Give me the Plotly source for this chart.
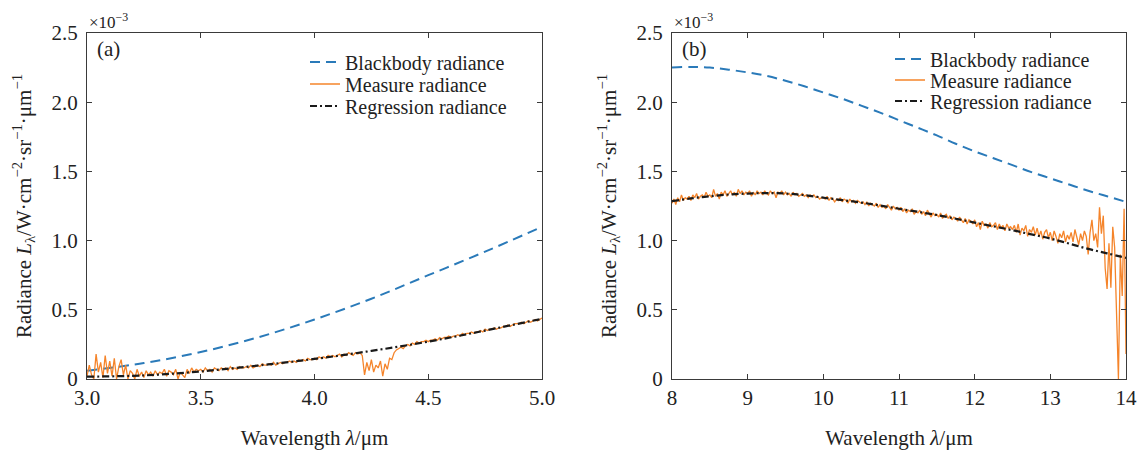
import numpy as np
import plotly.graph_objects as go

# ---- panel (a): 3-5 um, values in units of 1e-3 W/cm2/sr/um ----
smooth_a_x = [3.0, 3.25, 3.5, 3.75, 4.0, 4.25, 4.5, 4.75, 5.0]
blackbody_a = [0.06, 0.115, 0.195, 0.30, 0.43, 0.58, 0.75, 0.92, 1.10]
regression_a = [0.017, 0.026, 0.055, 0.097, 0.145, 0.203, 0.27, 0.35, 0.435]

measure_a_x = np.round(np.arange(3.0, 5.0001, 0.01), 2)
measure_a = [
    0.02, 0.10, 0.03, 0.00, 0.18, 0.05, 0.12, 0.01, 0.17, 0.04,
    0.13, 0.02, 0.15, 0.00, 0.09, 0.14, 0.03, 0.10, 0.00, 0.06,
    0.04, 0.00, 0.07, 0.02, 0.05, 0.01, 0.06, 0.03, 0.05, 0.02,
    0.06, 0.03, 0.05, 0.04, 0.07, 0.02, 0.06, 0.05, 0.03, 0.07,
    0.00, 0.05, 0.03, 0.01, 0.07, 0.04, 0.08, 0.05, 0.07, 0.06,
    0.07, 0.05, 0.08, 0.06, 0.07, 0.05, 0.08, 0.07, 0.06, 0.08,
    0.07, 0.08, 0.06, 0.09, 0.07, 0.08, 0.07, 0.09, 0.08, 0.08,
    0.09, 0.08, 0.10, 0.08, 0.09, 0.10, 0.09, 0.11, 0.10, 0.10,
    0.11, 0.10, 0.12, 0.10, 0.11, 0.12, 0.11, 0.12, 0.12, 0.13,
    0.12, 0.13, 0.12, 0.14, 0.13, 0.14, 0.13, 0.15, 0.14, 0.14,
    0.15, 0.14, 0.16, 0.15, 0.16, 0.15, 0.17, 0.16, 0.17, 0.16,
    0.17, 0.18, 0.16, 0.18, 0.17, 0.19, 0.18, 0.17, 0.19, 0.18,
    0.19, 0.17, 0.03, 0.12, 0.06, 0.14, 0.05, 0.10, 0.08, 0.13,
    0.02, 0.11, 0.07, 0.15, 0.14, 0.19, 0.21, 0.22, 0.23, 0.22,
    0.24, 0.25, 0.24, 0.26, 0.25, 0.27, 0.26, 0.27, 0.27, 0.28,
    0.27, 0.28, 0.28, 0.29, 0.28, 0.30, 0.29, 0.30, 0.30, 0.31,
    0.30, 0.31, 0.31, 0.32, 0.31, 0.33, 0.32, 0.33, 0.33, 0.34,
    0.33, 0.34, 0.34, 0.35, 0.34, 0.36, 0.35, 0.36, 0.36, 0.37,
    0.36, 0.37, 0.37, 0.38, 0.38, 0.39, 0.38, 0.39, 0.40, 0.40,
    0.40, 0.41, 0.40, 0.41, 0.42, 0.41, 0.42, 0.43, 0.42, 0.43,
    0.44,
]

# ---- panel (b): 8-14 um ----
smooth_b_x = [8.0, 8.25, 8.5, 8.75, 9.0, 9.25, 9.5, 9.75, 10.0, 10.25, 10.5, 10.75,
              11.0, 11.25, 11.5, 11.75, 12.0, 12.25, 12.5, 12.75, 13.0, 13.25, 13.5, 13.75, 14.0]
blackbody_b = [2.25, 2.255, 2.25, 2.235, 2.215, 2.19, 2.155, 2.115, 2.07, 2.025, 1.975, 1.925,
               1.87, 1.815, 1.76, 1.70, 1.645, 1.595, 1.545, 1.495, 1.45, 1.405, 1.36, 1.32, 1.28]
regression_b = [1.285, 1.305, 1.32, 1.333, 1.34, 1.343, 1.34, 1.328, 1.31, 1.293, 1.275, 1.253,
                1.23, 1.208, 1.185, 1.158, 1.13, 1.103, 1.075, 1.045, 1.015, 0.978, 0.94, 0.908, 0.875]

measure_b_x = np.round(np.arange(8.0, 14.0001, 0.025), 3)
measure_b = [
    1.27, 1.30, 1.26, 1.31, 1.28, 1.33, 1.29, 1.31, 1.30, 1.32,
    1.29, 1.33, 1.31, 1.34, 1.30, 1.32, 1.33, 1.31, 1.35, 1.32,
    1.33, 1.31, 1.37, 1.32, 1.34, 1.30, 1.35, 1.33, 1.36, 1.32,
    1.34, 1.36, 1.33, 1.35, 1.32, 1.37, 1.34, 1.36, 1.33, 1.35,
    1.34, 1.36, 1.32, 1.35, 1.33, 1.36, 1.34, 1.35, 1.33, 1.36,
    1.34, 1.33, 1.36, 1.34, 1.35, 1.31, 1.35, 1.34, 1.36, 1.33,
    1.35, 1.33, 1.34, 1.32, 1.35, 1.33, 1.34, 1.32, 1.33, 1.34,
    1.32, 1.33, 1.31, 1.33, 1.32, 1.33, 1.31, 1.32, 1.30, 1.31,
    1.31, 1.30, 1.32, 1.29, 1.31, 1.30, 1.28, 1.30, 1.29, 1.31,
    1.28, 1.30, 1.29, 1.27, 1.30, 1.28, 1.29, 1.27, 1.29, 1.28,
    1.27, 1.28, 1.26, 1.28, 1.25, 1.27, 1.26, 1.25, 1.27, 1.24,
    1.26, 1.24, 1.25, 1.23, 1.26, 1.24, 1.22, 1.25, 1.23, 1.24,
    1.22, 1.24, 1.21, 1.23, 1.20, 1.22, 1.21, 1.23, 1.19, 1.21,
    1.20, 1.22, 1.19, 1.21, 1.18, 1.22, 1.19, 1.17, 1.20, 1.18,
    1.19, 1.17, 1.20, 1.16, 1.18, 1.19, 1.16, 1.18, 1.15, 1.17,
    1.16, 1.14, 1.17, 1.15, 1.13, 1.16, 1.12, 1.15, 1.14, 1.12,
    1.15, 1.10, 1.13, 1.08, 1.14, 1.11, 1.12, 1.09, 1.13, 1.10,
    1.11, 1.13, 1.08, 1.12, 1.09, 1.11, 1.07, 1.12, 1.09, 1.10,
    1.08, 1.11, 1.06, 1.12, 1.04, 1.09, 1.07, 1.11, 1.03, 1.08,
    1.06, 1.10, 1.04, 1.09, 1.03, 1.07, 1.01, 1.06, 1.08, 1.02,
    1.06, 1.00, 1.07, 1.03, 0.98, 1.05, 1.02, 1.07, 0.99, 1.04,
    1.01, 1.06, 0.99, 1.08, 1.02, 0.97, 1.05, 1.00, 1.07, 1.03,
    0.90, 1.06, 1.15, 1.00, 1.05, 0.95, 1.24, 1.05, 1.18, 0.80,
    0.65, 0.98, 0.66, 1.10, 0.95, 0.40, 0.00, 0.90, 0.60, 1.23,
    0.18,
]

series_names = ["Blackbody radiance", "Measure radiance", "Regression radiance"]
ytick_vals = [0, 0.5, 1.0, 1.5, 2.0, 2.5]
ytick_text = ["0", "0.5", "1.0", "1.5", "2.0", "2.5"]

SERIF = "Liberation Serif, Times New Roman, serif"
BLUE = "#2a7ab9"
ORANGE = "#f5842a"
BLACK = "#1a1a1a"
AXIS = "#3a3a3a"
TXT = "#222222"

# the page body has an 8px margin, so work in page pixels and shift
OFF = 8
W, H = 1146 - OFF, 450 - OFF
TOP, BOT = 33, 379  # page rows of the plot frame


def px(v):
    return (v - OFF) / W


def py(v):
    return 1 - (v - TOP) / (BOT - TOP)


fig = go.Figure()

panels = [
    ("x", "y", ["legend", "legend2", "legend3"], smooth_a_x, blackbody_a, regression_a, measure_a_x, measure_a),
    ("x2", "y2", ["legend4", "legend5", "legend6"], smooth_b_x, blackbody_b, regression_b, measure_b_x, measure_b),
]
for xa, ya, legs, sx, bb, rg, mx, my in panels:
    fig.add_trace(go.Scatter(x=sx, y=bb, mode="lines", name=series_names[0],
                             line=dict(color=BLUE, width=2, dash="10px,6px", shape="spline"),
                             xaxis=xa, yaxis=ya, legend=legs[0]))
    fig.add_trace(go.Scatter(x=mx, y=my, mode="lines", name=series_names[1],
                             line=dict(color=ORANGE, width=1.3),
                             xaxis=xa, yaxis=ya, legend=legs[1]))
    fig.add_trace(go.Scatter(x=sx, y=rg, mode="lines", name=series_names[2],
                             line=dict(color=BLACK, width=2.2, dash="7px,3px,2px,3px", shape="spline"),
                             xaxis=xa, yaxis=ya, legend=legs[2]))

axis_common = dict(showline=True, linecolor=AXIS, linewidth=1.3, mirror="ticks",
                   ticks="inside", ticklen=5, tickcolor=AXIS, showgrid=False, zeroline=False,
                   automargin=False, tickfont=dict(family=SERIF, size=21, color=TXT))
ytitle = "Radiance <i>L</i><sub>λ</sub>/W·cm<sup>−2</sup>·sr<sup>−1</sup>·μm<sup>−1</sup>"
xtitle = "Wavelength <i>λ</i>/μm"
title_font = dict(family=SERIF, size=21, color=TXT)


def legend_box(x_page, y_page):
    return dict(x=px(x_page), y=py(y_page), xanchor="left", yanchor="middle",
                bgcolor="rgba(0,0,0,0)", font=dict(family=SERIF, size=20, color=TXT),
                tracegroupgap=0, itemwidth=30, borderwidth=0)


fig.update_layout(
    width=W, height=H,
    margin=dict(l=0, r=0, t=TOP - OFF, b=H - (BOT - OFF)),
    paper_bgcolor="white", plot_bgcolor="white",
    font=dict(family=SERIF, color=TXT),
    xaxis=dict(axis_common, domain=[px(87), px(542)], range=[3, 5],
               tickvals=[3.0, 3.5, 4.0, 4.5, 5.0], ticktext=["3.0", "3.5", "4.0", "4.5", "5.0"],
               title=dict(text=xtitle, font=title_font, standoff=23)),
    yaxis=dict(axis_common, range=[0, 2.5], tickvals=ytick_vals, ticktext=ytick_text,
               ticklabelstandoff=4,
               title=dict(text=ytitle, font=title_font, standoff=14)),
    xaxis2=dict(axis_common, domain=[px(672), px(1126)], range=[8, 14],
                tickvals=[8, 9, 10, 11, 12, 13, 14], anchor="y2",
                title=dict(text=xtitle, font=title_font, standoff=23)),
    yaxis2=dict(axis_common, range=[0, 2.5], tickvals=ytick_vals, ticktext=ytick_text,
                anchor="x2", ticklabelstandoff=4,
                title=dict(text=ytitle, font=title_font, standoff=14)),
    legend=legend_box(305, 62),
    legend2=legend_box(305, 84),
    legend3=legend_box(305, 106),
    legend4=legend_box(890, 59),
    legend5=legend_box(890, 80),
    legend6=legend_box(890, 101),
    showlegend=True,
)

for xref, yref, label in [("x domain", "y domain", "(a)"), ("x2 domain", "y2 domain", "(b)")]:
    fig.add_annotation(x=0.018, y=0.995, xref=xref, yref=yref, text=label, showarrow=False,
                       xanchor="left", yanchor="top", font=dict(family=SERIF, size=21, color=TXT))
    fig.add_annotation(x=0.0, y=1.0, xref=xref, yref=yref, text="×10<sup>−3</sup>", showarrow=False,
                       xanchor="left", yanchor="bottom", yshift=-1,
                       font=dict(family=SERIF, size=17, color=TXT))

fig.write_html("out.html")
